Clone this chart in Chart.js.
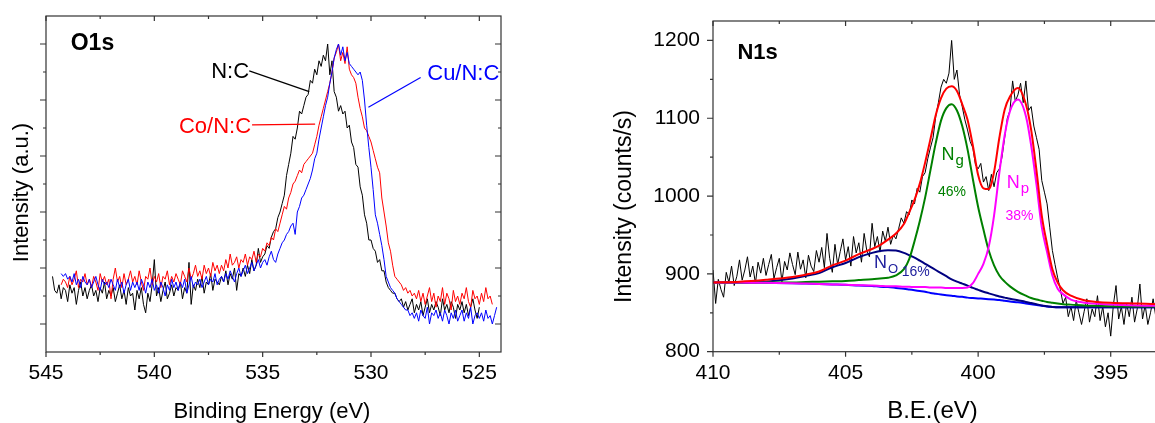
<!DOCTYPE html>
<html>
<head>
<meta charset="utf-8">
<script src="https://cdn.jsdelivr.net/npm/chart.js@4.4.1/dist/chart.umd.min.js"></script>
<style>
html,body{margin:0;padding:0;background:#fff;overflow:hidden;width:1155px;height:423px}
#o1s{position:absolute;left:0;top:0}
#n1s{position:absolute;left:600px;top:0}
</style>
</head>
<body>
<canvas id="o1s" width="520" height="423"></canvas>
<canvas id="n1s" width="600" height="423"></canvas>
<script>
// ---- O1s panel: scans, 0.1 eV apart, arbitrary units ----
const o1sStep = 0.1;
const ncStart = 544.7;
const ncIntensity = [
  27,22,21,24,19,23,22,18,
  24,21,23,17,22,25,20,23,19,22,
  24,20,22,18,23,21,25,19,22,20,
  23,18,21,24,19,22,17,23,20,21,
  15,22,19,23,17,14,21,18,24,33,
  20,23,18,22,25,19,21,24,20,23,
  22,25,19,23,21,32,17,24,22,26,
  23,27,21,25,24,28,22,26,25,24,
  27,25,29,24,28,26,30,22,28,27,
  30,27,31,28,33,29,31,37,32,34,
  35,38,37,41,43,44,48,50,53,56,
  63,67,71,77,76,80,86,85,88,91,
  92,97,96,101,99,104,102,106,104,110,
  99,104,93,91,86,88,85,86,80,81,
  75,73,67,66,59,56,49,46,40,40,
  37,36,32,33,29,29,25,23,22,21,
  21,19,18,19,16,18,15,17,19,14,
  17,15,18,13,16,19,14,17,15,18,
  16,13,19,15,17,14,18,16,12,17,
  15,18,14,17,13,16,19,15,12,16
];
const concStart = 544.3;
const concIntensity = [
  24,26,25,23,
  27,24,26,29,23,26,25,28,24,26,
  23,27,25,22,28,25,27,24,26,19,
  26,30,25,27,23,28,24,26,29,25,
  27,24,29,25,22,27,26,30,24,27,
  25,28,23,27,26,29,24,27,25,28,
  26,24,29,27,25,30,26,28,31,27,
  29,26,31,28,30,27,32,29,31,28,
  31,29,33,30,35,31,32,34,30,33,
  32,35,31,34,33,36,32,35,34,37,
  36,39,38,41,40,44,43,46,49,52,
  51,55,57,60,61,63,65,64,67,68,
  69,70,71,74,77,81,84,87,90,93,
  96,100,105,107,110,104,107,103,109,101,
  99,98,96,91,87,84,80,79,77,75,
  72,69,66,64,55,50,45,39,36,31,
  27,26,25,24,22,23,21,22,20,21,
  19,22,18,21,17,20,23,18,21,16,
  20,18,23,17,21,19,15,22,18,20,
  17,21,19,23,18,16,22,19,20,17,
  21,18,23,19,20,17
];
const cuncStart = 544.3;
const cuncIntensity = [
  28,27,28,26,
  27,25,28,24,26,23,27,25,24,26,
  23,25,27,24,22,26,24,25,23,26,
  24,22,26,23,25,21,24,26,22,25,
  23,25,22,26,24,21,25,23,26,22,
  24,21,25,23,20,24,22,26,23,25,
  22,25,23,26,21,24,27,23,25,24,
  26,23,25,27,24,26,25,28,24,26,
  27,25,28,26,29,27,25,28,30,27,
  29,31,28,30,32,29,31,33,30,32,
  33,31,34,36,33,32,35,37,39,40,
  42,43,45,46,42,50,52,55,56,58,
  60,62,65,69,71,76,80,84,88,91,
  96,100,105,108,110,106,109,104,107,103,
  102,101,100,99,100,97,90,81,73,66,
  58,49,46,42,38,33,27,25,23,22,
  21,19,18,17,16,15,15,13,14,12,
  14,11,15,13,12,16,10,14,13,15,
  12,14,11,15,13,10,14,12,15,11,
  13,15,11,14,12,16,10,13,14,12,
  14,11,15,12,13,10,13,16
];
const o1sXMajor = [545, 540, 535, 530, 525];
const o1sXMinor = [542.5, 537.5, 532.5, 527.5];
const o1sYMajor = [10, 30, 50, 70, 90, 110];
const o1sYMinor = [20, 40, 60, 80, 100];

// ---- N1s panel: raw scan (counts/s, 0.1 eV apart) and fitted components ----
const n1sStep = 0.1;
const n1sStart = 410;
const n1sCounts = [
  905,862,893,880,870,902,889,910,885,897,
  918,892,905,922,896,910,888,915,901,920,
  898,912,925,894,908,920,890,916,905,927,
  912,899,928,906,918,895,924,910,903,930,
  915,934,908,952,920,902,938,912,929,945,
  918,935,910,948,927,940,915,952,930,922,
  965,935,948,928,955,942,960,938,950,945,
  958,972,965,980,976,995,990,1010,1005,1025,
  1030,1048,1062,1075,1102,1120,1140,1150,1145,1158,
  1200,1150,1162,1130,1115,1098,1085,1070,1062,1040,
  1035,1042,1018,1025,1007,1028,1012,1030,1035,1050,
  1075,1100,1110,1148,1122,1130,1145,1120,1148,1110,
  1115,1090,1075,1060,1020,1005,990,960,930,912,
  895,880,862,870,845,858,840,866,850,835,
  852,868,838,855,845,872,840,858,832,850,
  820,860,885,842,858,835,862,845,870,838,
  855,887,842,860,835,850,868,845
];
const fitBE = [410, 409, 408, 407, 406.5, 406, 405.5, 405, 404.5, 404,
  403.7, 403.4, 403.1, 402.8, 402.6, 402.4, 402.2, 402.0,
  401.8, 401.6, 401.4, 401.2, 401.0, 400.8, 400.6, 400.4, 400.2, 400.0,
  399.8, 399.6, 399.4, 399.2, 399.0, 398.8, 398.5, 398.2, 398.0,
  397.8, 397.6, 397.4, 397.2, 397.0, 396.8, 396.5, 396.0, 395.5, 395.0,
  394.0, 393.0, 392.5];
const fitEnvelope = [889,890,892.5,896,899,903,911,917,925.5,932,
  937,944,952,964,979,995,1016,1043,
  1073,1104,1126,1138,1141,1135,1118,1098,1065,1027,
  1010,1009,1031,1075,1111,1128,1139,1118,1085,
  1033,975,938,906,889,879,872,866,864,863,
  862,861,861];
const fitNg = [889,889,889,889,889.5,890,890.5,891,892,893,
  894,895,898,906,919,942,968,998,
  1033,1068,1097,1113,1118,1110,1090,1060,1022,986,
  957,930,911,898,890,884,877,872,869,
  867,865.5,864,863,862,861,860.5,859.5,859,858.5,
  858,858,858];
const fitNp = [889,889,888.5,888,887.5,887,886.5,886,885.5,885,
  884.5,884,884,883.5,883.5,883,883,883,
  882.5,882.5,882.5,882,882,882,882,882.5,888,900,
  913,935,975,1030,1078,1109,1124,1103,1065,
  1015,960,928,898,881,874,867,863,861.5,860.5,
  859.5,859,859];
const fitNo = [889,889,890,894,897.5,901,908.5,914,921.5,927,
  929.5,930.5,930,927,924,921,917,913,
  909,905,901,897,893,890,887.5,885,882,879.5,
  877,875,873,871,869.5,868,866,864,862.5,
  861,859.5,858.5,857.5,857,857,857,857,857,857,
  857,857,857];
const fitBackground = [889,889,888.5,888,887.5,887,886.5,886,885,884.5,
  883.5,883,882,881,880,879,878,877,
  875.5,874.5,873.5,872.5,872,871,870.5,869.5,869,868.5,
  868,867.5,867,866.5,865.5,864.5,863.5,862,861,
  860,859,858,857.5,857,857,857,857,857,857,
  857,857,857];
const n1sXMajor = [410, 405, 400, 395];
const n1sXMinor = [407.5, 402.5, 397.5, 392.5];
const n1sYMajor = [800, 900, 1000, 1100, 1200];
const n1sYMinor = [850, 950, 1050, 1150];

// ---- helpers ----
const FONT = '"Liberation Sans", Arial, sans-serif';
Chart.defaults.font.family = FONT;
Chart.defaults.color = '#000';

const scan = (start, step, ys) => ys.map((v, i) => ({ x: +(start - i * step).toFixed(2), y: v }));
const pair = (xs, ys) => xs.map((v, i) => ({ x: v, y: ys[i] }));

function frameTicks(t) {
  return {
    id: 'frameTicks',
    afterDatasetsDraw(chart) {
      const { ctx, chartArea: a, scales: { x, y } } = chart;
      ctx.save();
      ctx.strokeStyle = '#333';
      ctx.lineWidth = 1.2;
      ctx.strokeRect(a.left, a.top, a.right - a.left, a.bottom - a.top);
      ctx.beginPath();
      const xMark = (v, len) => {
        const p = x.getPixelForValue(v);
        ctx.moveTo(p, a.bottom); ctx.lineTo(p, a.bottom + len);
        ctx.moveTo(p, a.top); ctx.lineTo(p, a.top + len);
      };
      const yMark = (v, len) => {
        const p = y.getPixelForValue(v);
        ctx.moveTo(a.left, p); ctx.lineTo(a.left - len, p);
        ctx.moveTo(a.right, p); ctx.lineTo(a.right - len, p);
      };
      t.xMajor.forEach(v => xMark(v, 5));
      t.xMinor.forEach(v => xMark(v, 3));
      t.yMajor.forEach(v => yMark(v, 6));
      t.yMinor.forEach(v => yMark(v, 3));
      ctx.stroke();
      ctx.restore();
    }
  };
}

function notes(n) {
  return {
    id: 'notes',
    afterDraw(chart) {
      const { ctx, scales: { x, y } } = chart;
      ctx.save();
      ctx.lineWidth = 1.2;
      (n.lines || []).forEach(l => {
        ctx.strokeStyle = l.color;
        ctx.beginPath();
        ctx.moveTo(x.getPixelForValue(l.x1), y.getPixelForValue(l.y1));
        ctx.lineTo(x.getPixelForValue(l.x2), y.getPixelForValue(l.y2));
        ctx.stroke();
      });
      ctx.textBaseline = 'middle';
      (n.labels || []).forEach(t => {
        const px = x.getPixelForValue(t.x), py = y.getPixelForValue(t.y);
        ctx.fillStyle = t.color;
        ctx.font = t.font;
        ctx.textAlign = t.align || 'left';
        ctx.fillText(t.text, px, py);
        if (t.sub) {
          const w = ctx.measureText(t.text).width;
          ctx.font = t.subFont;
          ctx.textAlign = 'left';
          ctx.fillText(t.sub, px + w + 1, py + t.subDy);
        }
      });
      (n.titles || []).forEach(t => {
        ctx.save();
        ctx.translate(t.x, t.y);
        if (t.rotate) ctx.rotate(-Math.PI / 2);
        ctx.font = t.font;
        ctx.fillStyle = '#000';
        ctx.textAlign = 'center';
        ctx.fillText(t.text, 0, 0);
        ctx.restore();
      });
      ctx.restore();
    }
  };
}

const fixX = h => s => { s.height = h; s.paddingLeft = 0; s.paddingRight = 0; };
const fixY = w => s => { s.width = w; s.paddingTop = 0; s.paddingBottom = 0; };
const useTicks = list => s => { s.ticks = list.map(v => ({ value: v })); };

// ---- O1s chart ----
new Chart(document.getElementById('o1s'), {
  type: 'line',
  data: {
    datasets: [
      { label: 'Cu/N:C', data: scan(cuncStart, o1sStep, cuncIntensity), borderColor: '#0000ff', borderWidth: 1 },
      { label: 'Co/N:C', data: scan(concStart, o1sStep, concIntensity), borderColor: '#ff0000', borderWidth: 1 },
      { label: 'N:C', data: scan(ncStart, o1sStep, ncIntensity), borderColor: '#000000', borderWidth: 1 }
    ]
  },
  options: {
    responsive: false, animation: false, devicePixelRatio: 1,
    layout: { padding: { left: 0, top: 16, right: 19, bottom: 0 } },
    elements: { point: { radius: 0 }, line: { tension: 0 } },
    plugins: { legend: { display: false }, tooltip: { enabled: false } },
    scales: {
      x: {
        type: 'linear', reverse: true, min: 524, max: 545,
        grid: { display: false, drawTicks: false }, border: { display: false },
        afterBuildTicks: useTicks(o1sXMajor), afterFit: fixX(71),
        ticks: { font: { size: 21 }, padding: 9, maxRotation: 0, autoSkip: false, callback: v => String(v) }
      },
      y: {
        min: 0, max: 120,
        grid: { display: false, drawTicks: false }, border: { display: false },
        ticks: { display: false }, afterFit: fixY(46)
      }
    }
  },
  plugins: [
    frameTicks({ xMajor: o1sXMajor, xMinor: o1sXMinor, yMajor: o1sYMajor, yMinor: o1sYMinor }),
    notes({
      labels: [
        { text: 'O1s', x: 543.86, y: 110.2, color: '#000', font: 'bold 23px ' + FONT },
        { text: 'N:C', x: 536.5, y: 100.1, color: '#000', font: '22px ' + FONT, align: 'center' },
        { text: 'Co/N:C', x: 537.2, y: 80.5, color: '#ff0000', font: '22px ' + FONT, align: 'center' },
        { text: 'Cu/N:C', x: 525.74, y: 99.3, color: '#0000ff', font: '22px ' + FONT, align: 'center' }
      ],
      lines: [
        { x1: 535.62, y1: 100.4, x2: 532.85, y2: 93.0, color: '#000' },
        { x1: 535.49, y1: 81.1, x2: 532.58, y2: 81.4, color: '#ff0000' },
        { x1: 527.71, y1: 98.0, x2: 530.12, y2: 87.4, color: '#0000ff' }
      ],
      titles: [
        { text: 'Binding Energy (eV)', x: 272, y: 412, font: '22px ' + FONT },
        { text: 'Intensity (a.u.)', x: 21.5, y: 192.5, rotate: true, font: '22px ' + FONT }
      ]
    })
  ]
});

// ---- N1s chart ----
const fitLine = (label, ys, color) => ({
  label, data: pair(fitBE, ys), borderColor: color, borderWidth: 2, cubicInterpolationMode: 'monotone'
});
new Chart(document.getElementById('n1s'), {
  type: 'line',
  data: {
    datasets: [
      fitLine('Envelope', fitEnvelope, '#ff0000'),
      fitLine('Np', fitNp, '#ff00ff'),
      fitLine('Ng', fitNg, '#008000'),
      fitLine('No', fitNo, '#000080'),
      fitLine('Background', fitBackground, '#0000ff'),
      { label: 'N1s', data: scan(n1sStart, n1sStep, n1sCounts), borderColor: '#000000', borderWidth: 1 }
    ]
  },
  options: {
    responsive: false, animation: false, devicePixelRatio: 1,
    layout: { padding: { left: 0, top: 21, right: 23, bottom: 0 } },
    elements: { point: { radius: 0 }, line: { tension: 0 } },
    plugins: { legend: { display: false }, tooltip: { enabled: false } },
    scales: {
      x: {
        type: 'linear', reverse: true, min: 392.5, max: 410,
        grid: { display: false, drawTicks: false }, border: { display: false },
        afterBuildTicks: useTicks(n1sXMajor), afterFit: fixX(71.3),
        ticks: { font: { size: 21 }, padding: 9, maxRotation: 0, autoSkip: false, callback: v => String(v) }
      },
      y: {
        min: 800, max: 1225,
        grid: { display: false, drawTicks: false }, border: { display: false },
        afterBuildTicks: useTicks(n1sYMajor), afterFit: fixY(113),
        ticks: { font: { size: 21 }, padding: 13, callback: v => String(v) }
      }
    }
  },
  plugins: [
    frameTicks({ xMajor: n1sXMajor, xMinor: n1sXMinor, yMajor: n1sYMajor, yMinor: n1sYMinor }),
    notes({
      labels: [
        { text: 'N1s', x: 409.08, y: 1183.9, color: '#000', font: 'bold 22px ' + FONT },
        { text: 'N', sub: 'g', subDy: 6, x: 401.38, y: 1052.8, color: '#008000', font: '18px ' + FONT, subFont: '15px ' + FONT },
        { text: '46%', x: 400.99, y: 1004.8, color: '#008000', font: '14px ' + FONT, align: 'center' },
        { text: 'N', sub: 'p', subDy: 6, x: 398.92, y: 1016.4, color: '#ff00ff', font: '18px ' + FONT, subFont: '15px ' + FONT },
        { text: '38%', x: 398.44, y: 974.4, color: '#ff00ff', font: '14px ' + FONT, align: 'center' },
        { text: 'N', sub: 'O', subDy: 7, x: 403.93, y: 914.4, color: '#1c1c9c', font: '18px ' + FONT, subFont: '13px ' + FONT },
        { text: '16%', x: 402.88, y: 902, color: '#1c1c9c', font: '14px ' + FONT }
      ],
      titles: [
        { text: 'B.E.(eV)', x: 332.5, y: 411.7, font: '24px ' + FONT },
        { text: 'Intensity (counts/s)', x: 25, y: 206.5, rotate: true, font: '23px ' + FONT }
      ]
    })
  ]
});
</script>
</body>
</html>
